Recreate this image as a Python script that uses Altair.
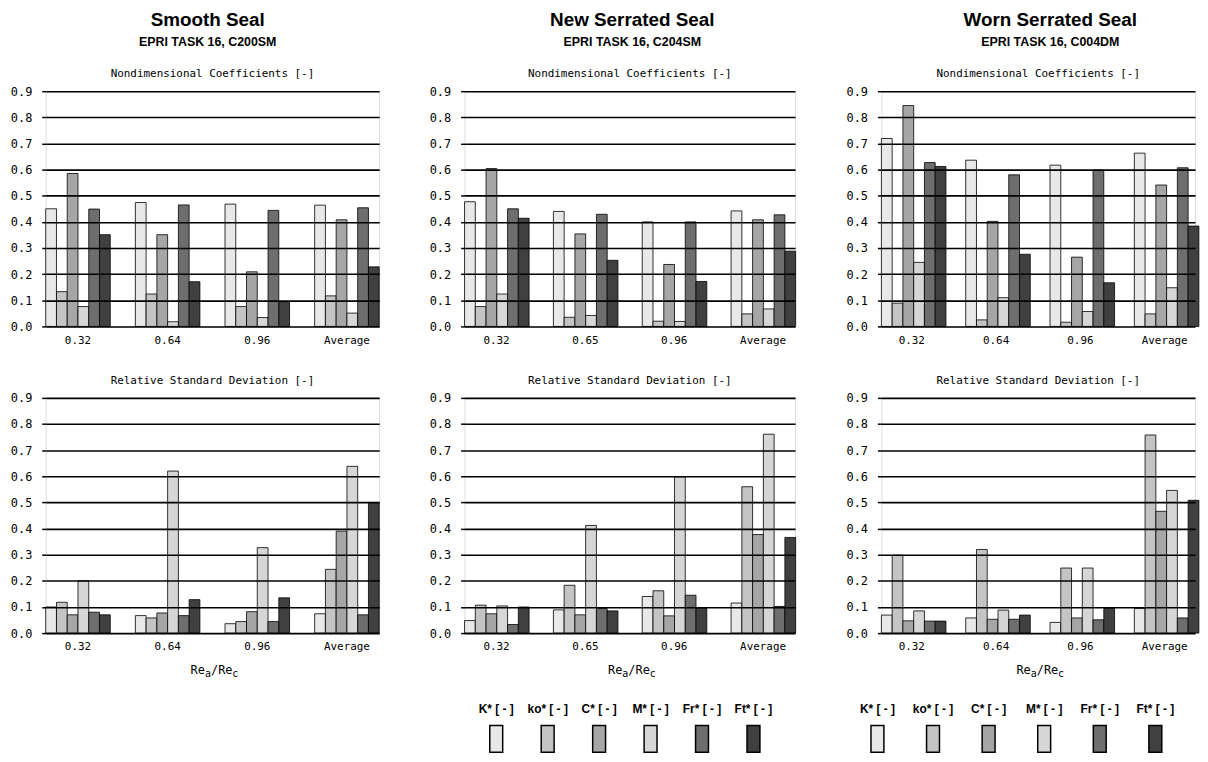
import altair as alt
import pandas as pd

MONO = "DejaVu Sans Mono"
SANS = "Liberation Sans"

SERIES = ["K*", "ko*", "C*", "M*", "Fr*", "Ft*"]
LEGEND_LABELS = ["K* [ - ]", "ko* [ - ]", "C* [ - ]", "M* [ - ]", "Fr* [ - ]", "Ft* [ - ]"]
FILLS = ["#e8e8e8", "#c4c4c4", "#a6a6a6", "#d6d6d6", "#6e6e6e", "#404040"]
Y_TICKS = [0.0, 0.1, 0.2, 0.3, 0.4, 0.5, 0.6, 0.7, 0.8, 0.9]

smooth_groups = ["0.32", "0.64", "0.96", "Average"]
new_groups = ["0.32", "0.65", "0.96", "Average"]
worn_groups = ["0.32", "0.64", "0.96", "Average"]

# rows: K*, ko*, C*, M*, Fr*, Ft* ; columns: groups
smooth_coef = [
    [0.450, 0.474, 0.468, 0.464],
    [0.133, 0.124, 0.076, 0.117],
    [0.585, 0.351, 0.209, 0.408],
    [0.076, 0.018, 0.034, 0.051],
    [0.449, 0.465, 0.444, 0.454],
    [0.351, 0.171, 0.095, 0.228],
]
smooth_rsd = [
    [0.100, 0.067, 0.036, 0.074],
    [0.118, 0.058, 0.044, 0.244],
    [0.070, 0.077, 0.082, 0.390],
    [0.200, 0.620, 0.327, 0.638],
    [0.080, 0.067, 0.044, 0.070],
    [0.070, 0.128, 0.135, 0.500],
]
new_coef = [
    [0.477, 0.440, 0.400, 0.442],
    [0.076, 0.035, 0.020, 0.048],
    [0.604, 0.354, 0.237, 0.408],
    [0.124, 0.042, 0.019, 0.067],
    [0.450, 0.429, 0.400, 0.427],
    [0.414, 0.253, 0.172, 0.288],
]
new_rsd = [
    [0.048, 0.089, 0.140, 0.115],
    [0.107, 0.183, 0.162, 0.560],
    [0.074, 0.070, 0.066, 0.377],
    [0.104, 0.412, 0.598, 0.761],
    [0.033, 0.094, 0.145, 0.102],
    [0.100, 0.085, 0.095, 0.366],
]
worn_coef = [
    [0.719, 0.636, 0.617, 0.663],
    [0.089, 0.025, 0.016, 0.048],
    [0.845, 0.402, 0.265, 0.541],
    [0.245, 0.110, 0.057, 0.148],
    [0.627, 0.580, 0.598, 0.607],
    [0.612, 0.276, 0.167, 0.384],
]
worn_rsd = [
    [0.069, 0.058, 0.041, 0.094],
    [0.298, 0.320, 0.249, 0.758],
    [0.047, 0.053, 0.058, 0.466],
    [0.085, 0.088, 0.249, 0.546],
    [0.046, 0.053, 0.051, 0.058],
    [0.046, 0.069, 0.094, 0.508],
]

PANEL_H = 237
Y_EXT = 36


def frame(groups, values):
    rows = []
    for si, s in enumerate(SERIES):
        for gi, g in enumerate(groups):
            rows.append({"group": g, "series": s, "value": values[si][gi]})
    return pd.DataFrame(rows)


def fill_enc():
    return alt.Fill("series:N", scale=alt.Scale(domain=SERIES, range=FILLS), legend=None)


def bars(groups, values):
    df = frame(groups, values)
    return alt.Chart(df).mark_bar(stroke="black", strokeWidth=0.8).encode(
        x=alt.X("group:N", sort=groups,
                scale=alt.Scale(domain=groups, paddingInner=0.28, paddingOuter=0),
                axis=alt.Axis(title=None, labelAngle=0, labelFont=MONO, labelFontSize=11,
                              labelColor="black", ticks=False, domain=False, labelPadding=8)),
        xOffset=alt.XOffset("series:N", sort=SERIES,
                            scale=alt.Scale(domain=SERIES, paddingInner=0, paddingOuter=0)),
        y=alt.Y("value:Q", scale=alt.Scale(domain=[0, 0.9], nice=False, zero=True),
                axis=alt.Axis(values=Y_TICKS, format=".1f", title=None, labelFont=MONO,
                              labelFontSize=12, labelColor="black", tickColor="black",
                              tickSize=4, tickWidth=1.5, labelPadding=10, domain=False,
                              grid=True, gridColor="black", gridWidth=1.6, zindex=1,
                              minExtent=Y_EXT, maxExtent=Y_EXT)),
        fill=fill_enc(),
    )


def panel_title(text):
    return alt.TitleParams(text, font=MONO, fontSize=11, fontWeight="normal",
                           color="black", offset=6)


def top_panel(groups, values, width):
    return bars(groups, values).properties(
        width=width, height=PANEL_H, title=panel_title("Nondimensional Coefficients [-]"))


def txt(s, x, y, size):
    return alt.Chart(pd.DataFrame({"t": [s]})).mark_text(
        font=MONO, fontSize=size, align="left", baseline="middle", color="black"
    ).encode(text="t:N", x=alt.value(x), y=alt.value(y))


def bottom_panel(groups, values, width):
    cx = width / 2 + 2
    x0 = cx - 24
    yb = PANEL_H + 37
    layers = [
        bars(groups, values),
        txt("Re", x0, yb, 12),
        txt("a", x0 + 14.5, yb + 4, 10),
        txt("/Re", x0 + 20.5, yb, 12),
        txt("c", x0 + 42, yb + 4, 10),
    ]
    return alt.layer(*layers).properties(
        width=width, height=PANEL_H, title=panel_title("Relative Standard Deviation [-]"))


def legend_chart(rng, width):
    df = pd.DataFrame({"series": SERIES, "label": LEGEND_LABELS})
    x = alt.X("series:N", sort=SERIES,
              scale=alt.Scale(domain=SERIES, range=rng, paddingInner=0, paddingOuter=0),
              axis=None)
    labels = alt.Chart(df).mark_text(font=SANS, fontSize=12, fontWeight="bold",
                                     baseline="middle", color="black").encode(
        x=x, y=alt.value(6), text="label:N")
    swatches = alt.Chart(df).mark_bar(width=13, stroke="black", strokeWidth=1.5).encode(
        x=x, y=alt.value(23), y2=alt.value(50), fill=fill_enc())
    return alt.layer(labels, swatches).properties(
        width=width, height=50, view=alt.ViewBackground(stroke="transparent"))


def column(title, subtitle, top, bottom, legend=None, dx=0):
    panels = alt.vconcat(top, bottom, spacing=28)
    inner = alt.vconcat(panels, legend, spacing=22) if legend is not None else panels
    return inner.properties(
        title=alt.TitleParams(title, subtitle=subtitle, font=SANS, fontSize=19,
                              fontWeight="bold", color="black", subtitleFont=SANS,
                              subtitleFontSize=12.5, subtitleFontWeight="bold",
                              subtitleColor="black", subtitlePadding=6, anchor="middle",
                              offset=20, dx=dx))


W1, W2, W3 = 336, 333, 316

col1 = column("Smooth Seal", "EPRI TASK 16, C200SM",
              top_panel(smooth_groups, smooth_coef, W1),
              bottom_panel(smooth_groups, smooth_rsd, W1), dx=13)
col2 = column("New Serrated Seal", "EPRI TASK 16, C204SM",
              top_panel(new_groups, new_coef, W2),
              bottom_panel(new_groups, new_rsd, W2),
              legend_chart([6, 317], W2), dx=20)
col3 = column("Worn Serrated Seal", "EPRI TASK 16, C004DM",
              top_panel(worn_groups, worn_coef, W3),
              bottom_panel(worn_groups, worn_rsd, W3),
              legend_chart([-32, 304], W3), dx=28)

chart = alt.hconcat(col1, col2, col3, spacing=48).properties(
    padding={"left": 1, "top": 0, "right": 0, "bottom": 0}
).configure_view(stroke="black", strokeWidth=1.5).configure(background="white")

chart.save("out.html", embed_options={"renderer": "svg", "actions": False})
